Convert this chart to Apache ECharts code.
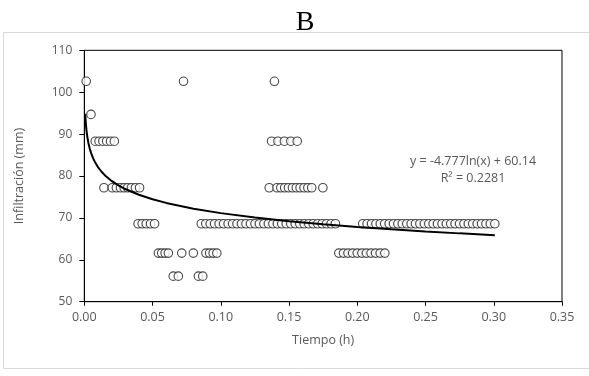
<!DOCTYPE html>
<html>
<head>
<meta charset="utf-8">
<script src="https://cdn.jsdelivr.net/npm/echarts@6/dist/echarts.min.js"></script>
<style>
html,body{margin:0;padding:0;background:#fff;}
#c{width:589px;height:376px;}
</style>
</head>
<body>
<div id="c"></div>
<script>
// Infiltration levels (mm) and the times (h) at which each level is observed
const levels = [102.6, 94.7, 88.3, 77.2, 68.6, 61.6, 56.1];
const times102 = [0.0014, 0.0727, 0.1393];
const times94 = [0.0049];
const times88 = [0.0080, 0.0108, 0.0136, 0.0164, 0.0192, 0.0220,
  0.1372, 0.1419, 0.1466, 0.1513, 0.1560];
const times77 = [0.0144, 0.0205, 0.0235, 0.0265, 0.0292, 0.0318, 0.0345, 0.0375, 0.0405,
  0.1355, 0.1412, 0.1440, 0.1468, 0.1496, 0.1525, 0.1553, 0.1581, 0.1610, 0.1638, 0.1666, 0.1748];
const times68 = [0.0394, 0.0424, 0.0454, 0.0485, 0.0515,
  0.0857, 0.0890, 0.0923, 0.0955, 0.0988, 0.1021, 0.1054, 0.1087, 0.1119, 0.1152, 0.1185,
  0.1218, 0.1251, 0.1283, 0.1316, 0.1349, 0.1382, 0.1415, 0.1447, 0.1480, 0.1513, 0.1546,
  0.1579, 0.1611, 0.1644, 0.1677, 0.1710, 0.1743, 0.1775, 0.1808, 0.1840,
  0.2040, 0.2072, 0.2105, 0.2137, 0.2169, 0.2201, 0.2234, 0.2266, 0.2298, 0.2330, 0.2363,
  0.2395, 0.2427, 0.2459, 0.2492, 0.2524, 0.2556, 0.2588, 0.2621, 0.2653, 0.2685, 0.2717,
  0.2750, 0.2782, 0.2814, 0.2846, 0.2879, 0.2911, 0.2943, 0.2975, 0.3008];
const times61 = [0.0543, 0.0567, 0.0592, 0.0616, 0.0714, 0.0799, 0.0891, 0.0918, 0.0944, 0.0971,
  0.1865, 0.1899, 0.1932, 0.1966, 0.2000, 0.2034, 0.2067, 0.2101, 0.2134, 0.2168, 0.2202];
const times56 = [0.0652, 0.0689, 0.0836, 0.0868];
const timeGroups = [times102, times94, times88, times77, times68, times61, times56];

// Logarithmic trendline shown on the chart: y = a*ln(x) + b
const trendA = -4.777;
const trendB = 60.14;
const trendX = [0.0007, 0.0009, 0.0012, 0.0016, 0.002, 0.0025, 0.003, 0.004, 0.005, 0.0065, 0.008,
  0.01, 0.0125, 0.015, 0.02, 0.025, 0.03, 0.04, 0.05, 0.06, 0.08, 0.1, 0.125, 0.15, 0.175,
  0.2, 0.225, 0.25, 0.275, 0.3008];

const xTicks = ['0.00','0.05','0.10','0.15','0.20','0.25','0.30','0.35'];
const yTicks = ['50','60','70','80','90','100','110'];

const scatterData = [];
timeGroups.forEach((g, i) => g.forEach(t => scatterData.push([t, levels[i]])));
const trendData = trendX.map(x => [x, trendA * Math.log(x) + trendB]);

const FONT = 'Open Sans';
const GRAY = '#595959';
const chart = echarts.init(document.getElementById('c'), null, {renderer: 'canvas'});
chart.setOption({
  animation: false,
  backgroundColor: '#fff',
  title: {
    text: 'B', left: 300, top: 4, textAlign: 'center',
    textStyle: {fontFamily: 'Liberation Serif', fontSize: 28, fontWeight: 'normal', color: '#000'}
  },
  grid: {left: 84.3, right: 27, top: 50.3, bottom: 74.3, show: true, borderColor: '#000', borderWidth: 1},
  xAxis: {
    type: 'value', min: 0, max: 0.35, interval: 0.05,
    name: 'Tiempo (h)', nameLocation: 'middle', nameGap: 32,
    nameTextStyle: {fontFamily: FONT, fontSize: 12.5, color: GRAY},
    axisLine: {lineStyle: {color: '#000', width: 1}},
    axisTick: {show: true, inside: false, length: 4, lineStyle: {color: '#000'}},
    axisLabel: {margin: 9, fontFamily: FONT, fontSize: 12.5, color: GRAY,
      formatter: v => xTicks[Math.round(v / 0.05)]},
    splitLine: {show: false}
  },
  yAxis: {
    type: 'value', min: 50, max: 110, interval: 10,
    name: 'Infiltración (mm)', nameLocation: 'middle', nameGap: 58, nameRotate: 90,
    nameTextStyle: {fontFamily: FONT, fontSize: 12.5, color: GRAY},
    axisLine: {show: true, lineStyle: {color: '#000', width: 1}},
    axisTick: {show: true, inside: false, length: 5, lineStyle: {color: '#000'}},
    axisLabel: {margin: 12, fontFamily: FONT, fontSize: 12, color: GRAY,
      formatter: v => yTicks[Math.round((v - 50) / 10)]},
    splitLine: {show: false}
  },
  series: [
    {
      type: 'scatter', data: scatterData, symbol: 'circle', symbolSize: 8.5,
      itemStyle: {color: '#fff', borderColor: '#1a1a1a', borderWidth: 1.1}, z: 2
    },
    {
      type: 'line', data: trendData, showSymbol: false, smooth: false,
      lineStyle: {color: '#000', width: 2}, z: 3
    }
  ],
  graphic: [
    {type: 'rect', shape: {x: 3.5, y: 32.5, width: 620, height: 336}, style: {fill: 'none', stroke: '#d9d9d9', lineWidth: 1}, silent: true, z: -1},
    {type: 'text', left: 'auto', x: 473, y: 153,
      style: {text: 'y = -4.777ln(x) + 60.14\nR² = 0.2281', align: 'center', verticalAlign: 'top',
        lineHeight: 17, fontFamily: FONT, fontSize: 12.5, fill: GRAY}}
  ]
});
</script>
</body>
</html>
